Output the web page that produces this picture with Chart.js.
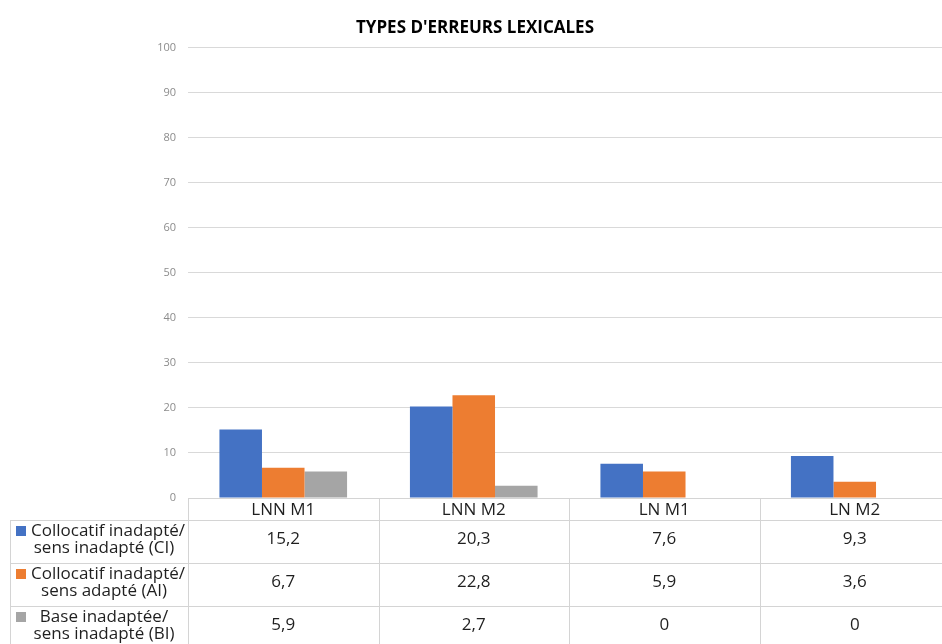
<!DOCTYPE html>
<html lang="fr">
<head>
<meta charset="utf-8">
<title>Types d'erreurs lexicales</title>
<script src="https://cdn.jsdelivr.net/npm/chart.js@4.4.1/dist/chart.umd.min.js"></script>
<style>
  html, body { margin: 0; padding: 0; background: #fff; overflow: hidden; }
  #wrap { width: 960px; height: 644px; }
</style>
</head>
<body>
<div id="wrap"><canvas id="chart" width="960" height="644"></canvas></div>
<script>
// categories (table columns)
const groups = ["LNN M1", "LNN M2", "LN M1", "LN M2"];

// series names, split on two lines like the data table
const nameCI = ["Collocatif inadapté/", "sens inadapté (CI)"];
const nameAI = ["Collocatif inadapté/", "sens adapté (AI)"];
const nameBI = ["Base inadaptée/", "sens inadapté (BI)"];

// values (%)
const valuesCI = [15.2, 20.3, 7.6, 9.3];
const valuesAI = [6.7, 22.8, 5.9, 3.6];
const valuesBI = [5.9, 2.7, 0, 0];

const yMin = 0, yMax = 100, yStep = 10;

const FONT = "'Open Sans', 'Noto Sans', sans-serif";
const BLUE = "#4472c4", ORANGE = "#ed7d31", GREY = "#a5a5a5";

// number like in the table: 15,2
const fmt = (v) => String(v).replace(".", ",");

// draws the data table under the plot, aligned on the x scale
const dataTable = {
  id: "dataTable",
  afterDraw(chart) {
    const ctx = chart.ctx;
    const xs = chart.scales.x;
    const area = chart.chartArea;
    const colW = xs.width / groups.length;
    const top = Math.round(area.bottom);
    const headerH = 22, rowH = 43;
    const labelLeft = 10;
    const right = chart.width;
    const bottom = top + headerH + rowH * 3;
    const rows = [
      { name: nameCI, color: BLUE, values: valuesCI },
      { name: nameAI, color: ORANGE, values: valuesAI },
      { name: nameBI, color: GREY, values: valuesBI },
    ];

    ctx.save();
    ctx.strokeStyle = "#d4d4d4";
    ctx.lineWidth = 1;
    ctx.beginPath();
    ctx.moveTo(area.left, top + 0.5);
    ctx.lineTo(right, top + 0.5);
    for (let r = 0; r <= 3; r++) {
      const y = top + headerH + rowH * r + 0.5;
      ctx.moveTo(labelLeft, y);
      ctx.lineTo(right, y);
    }
    ctx.moveTo(labelLeft + 0.5, top + headerH);
    ctx.lineTo(labelLeft + 0.5, bottom);
    for (let i = 0; i <= groups.length; i++) {
      const x = Math.round(area.left + colW * i) + 0.5;
      ctx.moveTo(x, top);
      ctx.lineTo(x, bottom);
    }
    ctx.stroke();

    ctx.fillStyle = "#1f1f1f";
    ctx.textAlign = "center";
    ctx.textBaseline = "middle";
    ctx.font = "17px " + FONT;
    groups.forEach((g, i) => {
      ctx.fillText(g, xs.getPixelForValue(i), top + headerH / 2 + 1);
    });

    rows.forEach((row, r) => {
      const y0 = top + headerH + rowH * r;
      ctx.fillStyle = "#1f1f1f";
      row.values.forEach((v, i) => {
        ctx.fillText(fmt(v), xs.getPixelForValue(i), y0 + 19);
      });
      // series label with legend key
      const w0 = ctx.measureText(row.name[0]).width;
      const w1 = ctx.measureText(row.name[1]).width;
      const c0 = Math.max(104, 31 + w0 / 2);
      const c1 = Math.max(104, 14 + w1 / 2);
      ctx.fillText(row.name[0], c0, y0 + 11);
      ctx.fillText(row.name[1], c1, y0 + 28);
      ctx.fillStyle = row.color;
      ctx.fillRect(16, y0 + 6, 10, 10);
    });
    ctx.restore();
  },
};

new Chart(document.getElementById("chart"), {
  type: "bar",
  data: {
    labels: groups,
    datasets: [
      { label: nameCI.join(" "), data: valuesCI, backgroundColor: BLUE },
      { label: nameAI.join(" "), data: valuesAI, backgroundColor: ORANGE },
      { label: nameBI.join(" "), data: valuesBI, backgroundColor: GREY },
    ],
  },
  options: {
    responsive: false,
    animation: false,
    layout: { padding: { left: 0, right: 10, top: 0, bottom: 146 } },
    datasets: { bar: { categoryPercentage: 0.67, barPercentage: 1 } },
    scales: {
      x: {
        grid: { display: false },
        border: { display: false },
        ticks: { display: false },
        afterFit: (scale) => { scale.height = 0; },
      },
      y: {
        min: yMin,
        max: yMax,
        ticks: { stepSize: yStep, padding: 12, color: "#8c8c8c", font: { family: FONT, size: 11 } },
        grid: { color: "#d9d9d9", drawTicks: false },
        border: { display: false },
        afterFit: (scale) => { scale.width = 188; },
      },
    },
    plugins: {
      legend: { display: false },
      tooltip: { enabled: false },
      title: {
        display: true,
        text: "TYPES D'ERREURS LEXICALES",
        color: "#000",
        font: { family: FONT, size: 17, weight: "bold" },
        padding: { top: 18, bottom: 9 },
      },
    },
  },
  plugins: [dataTable],
});
</script>
</body>
</html>
